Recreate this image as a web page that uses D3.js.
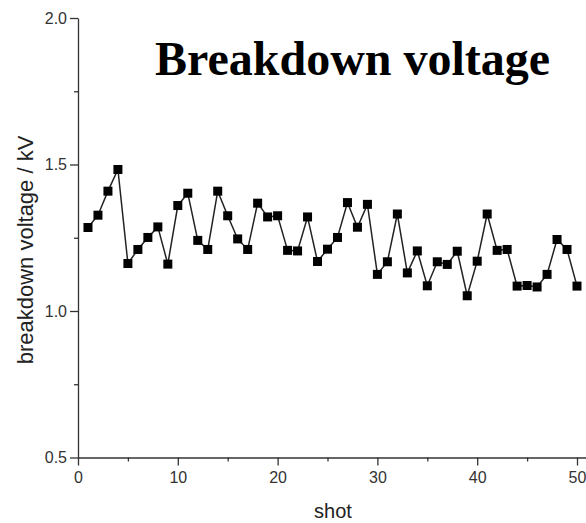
<!DOCTYPE html>
<html>
<head>
<meta charset="utf-8">
<script src="https://cdn.jsdelivr.net/npm/d3@7"></script>
<style>
  body { margin: 0; background: #fff; }
  .axis path, .axis line { stroke: #333; stroke-width: 1.3; }
  .axis text { font-family: "Liberation Sans", Arial, sans-serif; font-size: 16px; fill: #333; }
</style>
</head>
<body>
<svg id="chart" width="586" height="523"></svg>
<script>
// shot numbers and measured breakdown voltage (kV)
const shots = d3.range(1, 51);
const voltages = [
  1.285, 1.327, 1.409, 1.483, 1.162, 1.210, 1.251, 1.287, 1.160, 1.360,
  1.402, 1.241, 1.210, 1.409, 1.325, 1.246, 1.210, 1.368, 1.321, 1.325,
  1.207, 1.205, 1.321, 1.169, 1.211, 1.251, 1.370, 1.286, 1.364, 1.125,
  1.168, 1.331, 1.130, 1.205, 1.086, 1.168, 1.159, 1.204, 1.052, 1.170,
  1.331, 1.207, 1.210, 1.085, 1.087, 1.082, 1.125, 1.244, 1.210, 1.085
];
const xMajor = [0, 10, 20, 30, 40, 50];
const xMinor = [5, 15, 25, 35, 45];
const yMajor = [0.5, 1.0, 1.5, 2.0];
const yMinor = [0.75, 1.25, 1.75];

const svg = d3.select("#chart");

const x = d3.scaleLinear().domain([0, 52]).range([78, 78 + 52 * 9.98]);
const y = d3.scaleLinear().domain([0.5, 2.0]).range([457.5, 18]);

// minor ticks first, then the major axis on top
svg.append("g")
    .attr("class", "axis")
    .attr("transform", `translate(0,${y(0.5)})`)
    .call(d3.axisBottom(x).tickValues(xMinor).tickSize(4).tickFormat(""))
    .select(".domain").remove();

svg.append("g")
    .attr("class", "axis")
    .attr("transform", `translate(0,${y(0.5)})`)
    .call(d3.axisBottom(x).tickValues(xMajor).tickSize(8).tickSizeOuter(0).tickPadding(6).tickFormat(d3.format("d")));

svg.append("g")
    .attr("class", "axis")
    .attr("transform", `translate(${x(0)},0)`)
    .call(d3.axisLeft(y).tickValues(yMinor).tickSize(4).tickFormat(""))
    .select(".domain").remove();

svg.append("g")
    .attr("class", "axis")
    .attr("transform", `translate(${x(0)},0)`)
    .call(d3.axisLeft(y).tickValues(yMajor).tickSize(8).tickSizeOuter(0).tickPadding(3).tickFormat(d3.format(".1f")));

// series
const pts = shots.map((s, i) => ({ s, v: voltages[i] }));

svg.append("path")
    .datum(pts)
    .attr("fill", "none")
    .attr("stroke", "#222")
    .attr("stroke-width", 1.5)
    .attr("d", d3.line().x(d => x(d.s)).y(d => y(d.v)));

const m = 9;
svg.selectAll("rect.pt")
    .data(pts)
    .enter().append("rect")
    .attr("class", "pt")
    .attr("x", d => x(d.s) - m / 2)
    .attr("y", d => y(d.v) - m / 2)
    .attr("width", m)
    .attr("height", m)
    .attr("fill", "#000");

// labels
svg.append("text")
    .attr("x", 333)
    .attr("y", 518)
    .attr("text-anchor", "middle")
    .style("font-family", "Liberation Sans, Arial, sans-serif")
    .style("font-size", "20px")
    .style("fill", "#222")
    .text("shot");

svg.append("text")
    .attr("transform", "translate(33,250) rotate(-90)")
    .attr("text-anchor", "middle")
    .style("font-family", "Liberation Sans, Arial, sans-serif")
    .style("font-size", "22px")
    .style("fill", "#222")
    .text("breakdown voltage / kV");

svg.append("text")
    .attr("x", 155)
    .attr("y", 75)
    .style("font-family", "Liberation Serif, Times New Roman, serif")
    .style("font-weight", "bold")
    .style("font-size", "48px")
    .style("fill", "#000")
    .text("Breakdown voltage");
</script>
</body>
</html>
